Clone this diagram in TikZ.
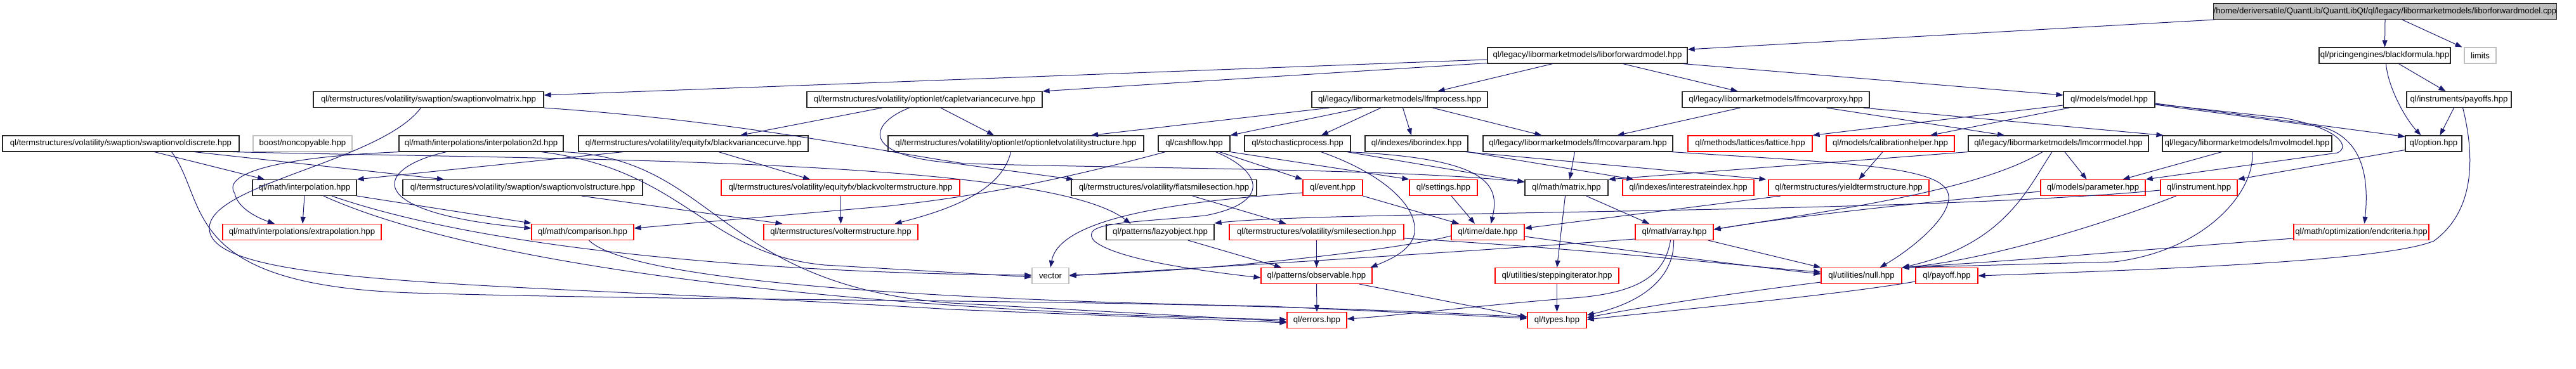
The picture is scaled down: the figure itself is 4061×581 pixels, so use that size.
\documentclass[tikz,border=0pt]{standalone}
\usepackage{fontspec}
\setmainfont{Liberation Sans}
\usetikzlibrary{arrows.meta}
\definecolor{edgec}{HTML}{191970}
\definecolor{graybox}{HTML}{BFBFBF}
\newcommand\lab{\fontsize{13.2}{15}\selectfont}
\begin{document}
\begin{tikzpicture}[x=1pt,y=-1pt,
 nd/.style={rectangle, draw, line width=1.2pt, minimum height=25pt, inner sep=0pt, font=\lab, text=black},
 blk/.style={nd, draw=black!85},
 trunc/.style={nd, draw=red},
 extn/.style={nd, draw=graybox},
 dep/.style={draw=edgec, line width=1pt, -{Triangle[length=11pt,width=8pt]}}]
\useasboundingbox (0,0) rectangle (4061,581);
% row 0
\node[blk, fill=graybox, minimum width=516pt] (root) at (3760,18) {/home/deriversatile/QuantLib/QuantLibQt/ql/legacy/libormarketmodels/liborforwardmodel.cpp};
% row 1
\node[blk, minimum width=315pt] (lfm) at (2502.5,87.5) {ql/legacy/libormarketmodels/liborforwardmodel.hpp};
\node[blk, minimum width=207pt] (bf) at (3759.5,87.5) {ql/pricingengines/blackformula.hpp};
\node[extn, minimum width=50pt] (limits) at (3910,87.5) {limits};
% row 2
\node[blk, minimum width=363pt] (svm) at (675.5,157) {ql/termstructures/volatility/swaption/swaptionvolmatrix.hpp};
\node[blk, minimum width=371pt] (cvc) at (1457.5,157) {ql/termstructures/volatility/optionlet/capletvariancecurve.hpp};
\node[blk, minimum width=277pt] (lfmp) at (2206.5,157) {ql/legacy/libormarketmodels/lfmprocess.hpp};
\node[blk, minimum width=295pt] (lcp) at (2799.5,157) {ql/legacy/libormarketmodels/lfmcovarproxy.hpp};
\node[blk, minimum width=144pt] (model) at (3325,157) {ql/models/model.hpp};
\node[blk, minimum width=165pt] (payoffs) at (3876.5,157) {ql/instruments/payoffs.hpp};
% row 3
\node[blk, minimum width=373pt] (svd) at (190.5,226.5) {ql/termstructures/volatility/swaption/swaptionvoldiscrete.hpp};
\node[extn, minimum width=156pt] (nc) at (477,226.5) {boost/noncopyable.hpp};
\node[blk, minimum width=259pt] (i2d) at (758.5,226.5) {ql/math/interpolations/interpolation2d.hpp};
\node[blk, minimum width=362pt] (bvc) at (1093,226.5) {ql/termstructures/volatility/equityfx/blackvariancecurve.hpp};
\node[blk, minimum width=403pt] (ovs) at (1601.5,226.5) {ql/termstructures/volatility/optionlet/optionletvolatilitystructure.hpp};
\node[blk, minimum width=113pt] (cf) at (1882.5,226.5) {ql/cashflow.hpp};
\node[blk, minimum width=167pt] (sp) at (2045.5,226.5) {ql/stochasticprocess.hpp};
\node[blk, minimum width=162pt] (ibor) at (2233,226.5) {ql/indexes/iborindex.hpp};
\node[blk, minimum width=299pt] (lcpar) at (2487.5,226.5) {ql/legacy/libormarketmodels/lfmcovarparam.hpp};
\node[trunc, minimum width=196pt] (lat) at (2759,226.5) {ql/methods/lattices/lattice.hpp};
\node[trunc, minimum width=202pt] (cal) at (2980,226.5) {ql/models/calibrationhelper.hpp};
\node[blk, minimum width=284pt] (lmc) at (3245,226.5) {ql/legacy/libormarketmodels/lmcorrmodel.hpp};
\node[blk, minimum width=267pt] (lmv) at (3542.5,226.5) {ql/legacy/libormarketmodels/lmvolmodel.hpp};
\node[blk, minimum width=89pt] (opt) at (3836.5,226.5) {ql/option.hpp};
% row 4
\node[blk, minimum width=164pt] (interp) at (480,296) {ql/math/interpolation.hpp};
\node[blk, minimum width=378pt] (svs) at (824,296) {ql/termstructures/volatility/swaption/swaptionvolstructure.hpp};
\node[trunc, minimum width=376pt] (bvts) at (1325,296) {ql/termstructures/volatility/equityfx/blackvoltermstructure.hpp};
\node[blk, minimum width=292pt] (fss) at (1835,296) {ql/termstructures/volatility/flatsmilesection.hpp};
\node[trunc, minimum width=94pt] (ev) at (2101,296) {ql/event.hpp};
\node[trunc, minimum width=107pt] (sett) at (2275.5,296) {ql/settings.hpp};
\node[blk, minimum width=131pt] (mat) at (2469.5,296) {ql/math/matrix.hpp};
\node[trunc, minimum width=207pt] (iri) at (2661.5,296) {ql/indexes/interestrateindex.hpp};
\node[trunc, minimum width=253pt] (yts) at (2914.5,296) {ql/termstructures/yieldtermstructure.hpp};
\node[trunc, minimum width=165pt] (par) at (3299.5,296) {ql/models/parameter.hpp};
\node[trunc, minimum width=121pt] (ins) at (3466.5,296) {ql/instrument.hpp};
% row 5
\node[trunc, minimum width=250pt] (ext) at (476,366) {ql/math/interpolations/extrapolation.hpp};
\node[trunc, minimum width=161pt] (cmp) at (918.5,366) {ql/math/comparison.hpp};
\node[trunc, minimum width=243pt] (vts) at (1325.5,366) {ql/termstructures/voltermstructure.hpp};
\node[blk, minimum width=170pt] (lazy) at (1829,366) {ql/patterns/lazyobject.hpp};
\node[trunc, minimum width=275pt] (ss) at (2075.5,366) {ql/termstructures/volatility/smilesection.hpp};
\node[trunc, minimum width=115pt] (date) at (2345.5,366) {ql/time/date.hpp};
\node[trunc, minimum width=123pt] (arr) at (2639.5,366) {ql/math/array.hpp};
\node[trunc, minimum width=213pt] (endc) at (3722.5,366) {ql/math/optimization/endcriteria.hpp};
% row 6
\node[extn, minimum width=58pt] (vec) at (1656,435) {vector};
\node[trunc, minimum width=175pt] (obs) at (2075.5,435) {ql/patterns/observable.hpp};
\node[trunc, minimum width=195pt] (stepit) at (2454.5,435) {ql/utilities/steppingiterator.hpp};
\node[trunc, minimum width=127pt] (nul) at (2934.5,435) {ql/utilities/null.hpp};
\node[trunc, minimum width=98pt] (pay) at (3069,435) {ql/payoff.hpp};
% row 7
\node[trunc, minimum width=94pt] (err) at (2076,505) {ql/errors.hpp};
\node[trunc, minimum width=93pt] (typ) at (2454.5,505) {ql/types.hpp};

% edges
\draw[dep] ([xshift=2pt]root.south west) -- ([yshift=9.5pt]lfm.east);
\draw[dep] (root.south) -- (bf.north);
\draw[dep] ([xshift=27pt]root.south) -- ([xshift=-3pt]limits.north west);
\draw[dep] ([yshift=-6.5pt]lfm.west) -- ([yshift=7pt]svm.east);
\draw[dep] ([yshift=-12pt]lfm.west) -- (cvc.north east);
\draw[dep] ([xshift=-55pt]lfm.south) -- ([xshift=60pt]lfmp.north);
\draw[dep] ([xshift=56pt]lfm.south) -- ([xshift=-60pt]lcp.north);
\draw[dep] ([xshift=-7pt]lfm.south east) -- ([yshift=7pt]model.west);
\draw[dep] ([xshift=22pt]bf.south) -- ([xshift=-21pt]payoffs.north);
\draw[dep] ([xshift=2pt]bf.south) .. controls (3764,135) and (3790,185) .. ([xshift=-20pt]opt.north);
\draw[dep] ([xshift=-8pt]payoffs.south) -- ([xshift=10pt]opt.north);
\draw[dep] ([xshift=6pt]payoffs.south) .. controls (3900,240) and (3905,330) .. (3837,380) .. controls (3760,412) and (3400,425) .. (pay.east);
\draw[dep] ([yshift=-10pt]opt.west) -- (ins.north east);
\draw[dep] ([yshift=-6pt]model.east) -- ([yshift=11pt]opt.west);
\draw[dep] ([yshift=-7pt]model.east) -- (3600,186) .. controls (3690,203) and (3705,232) .. (3685,241) -- (par.north east);
\draw[dep] ([yshift=-8pt]model.east) -- (3660,200) .. controls (3725,218) and (3735,280) .. ([xshift=5pt]endc.north);
\draw[dep] ([xshift=-63pt]model.south) -- ([xshift=63pt]cal.north);
\draw[dep] ([yshift=-9pt]model.west) -- (lat.north east);
\draw[dep] ([xshift=-12pt]cal.south) -- ([xshift=16pt]yts.north);
\draw[dep] ([xshift=-56pt]lcp.south) -- ([xshift=62pt]lcpar.north);
\draw[dep] ([xshift=80pt]lcp.south) -- ([xshift=-85pt]lmc.north);
\draw[dep] ([xshift=-10pt]lcp.south east) -- ([xshift=2pt]lmv.north west);
\draw[dep] ([xshift=10pt]lmc.south) -- ([xshift=-10pt]par.north);
\draw[dep] ([xshift=-10pt]lmc.south) .. controls (3195,300) and (3160,385) .. ([yshift=13pt]nul.east);
\draw[dep] ([xshift=-25pt]lmc.south) .. controls (3120,300) and (2900,330) .. ([yshift=4pt]arr.east);
\draw[dep] (lmc.south west) -- (mat.north east);
\draw[dep] ([xshift=-40pt]lmv.south) -- ([xshift=47pt]par.north);
\draw[dep] ([xshift=8pt]lmv.south) .. controls (3556,300) and (3480,395) .. (3333,413) -- ([yshift=13pt]nul.east);
\draw[dep] ([yshift=-10pt]endc.west) .. controls (3400,392) and (3200,410) .. ([yshift=13pt]nul.east);
\draw[dep] ([xshift=-36pt]ins.south) .. controls (3300,360) and (3120,412) .. ([yshift=13pt]nul.east);
\draw[dep] ([yshift=-4pt]ins.west) .. controls (3000,338) and (2100,332) .. ([yshift=14pt]lazy.east);
\draw[dep] ([yshift=-6pt]par.west) .. controls (3000,322) and (2800,345) .. ([yshift=4pt]arr.east);
\draw[dep] ([xshift=-2pt]lcpar.south east) .. controls (2920,258) and (3070,262) .. (3072,310) .. controls (3074,345) and (3010,395) .. ([xshift=29pt]nul.north);
\draw[dep] ([xshift=-5pt]lcpar.south) -- ([xshift=5pt]mat.north);
\draw[dep] ([xshift=-29.5pt]lfmp.south) -- ([xshift=37.5pt]sp.north);
\draw[dep] ([xshift=5pt]lfmp.south) -- ([xshift=-8pt]ibor.north);
\draw[dep] ([xshift=52pt]lfmp.south) -- ([xshift=-57pt]lcpar.north);
\draw[dep] ([xshift=-111pt]lfmp.south) -- ([xshift=118.5pt]ovs.north);
\draw[dep] ([xshift=-59pt]lfmp.south) -- (cf.north east);
\draw[dep] ([xshift=-67pt]cvc.south) -- ([xshift=74pt]bvc.north);
\draw[dep] ([xshift=25.5pt]cvc.south) -- ([xshift=-34.5pt]ovs.north);
\draw[dep] ([xshift=-24pt]cvc.south) .. controls (1370,195) and (1355,245) .. (1500,257) -- ([xshift=4pt]fss.north west);
\draw[dep] ([xshift=40pt]bvc.south) -- ([xshift=-48pt]bvts.north);
\draw[dep] ([xshift=-111pt]bvc.south) -- (interp.north east);
\draw[dep] ([xshift=93pt]svs.south) -- ([xshift=-92pt]vts.north);
\draw[dep] (bvts.south) -- (vts.north);
\draw[dep] ([xshift=-8pt]ovs.south) .. controls (1580,300) and (1500,330) .. ([xshift=85pt]vts.north);
\draw[dep] ([xshift=-45.5pt]cf.south) .. controls (1650,290) and (1520,312) .. (1400,325) -- ([yshift=6pt]cmp.east);
\draw[dep] ([xshift=45pt]fss.south) -- ([xshift=-48pt]ss.north);
\draw[dep] ([xshift=-10pt]svd.south east) .. controls (900,252) and (1650,250) .. ([xshift=39pt]lazy.north west);
\draw[dep] ([xshift=116pt]svd.south) -- ([xshift=-124pt]svs.north);
\draw[dep] ([xshift=53pt]svd.south) -- ([xshift=-63pt]interp.north);
\draw[dep] (interp.south) -- ([xshift=1pt]ext.north);
\draw[dep] (interp.south east) -- ([yshift=14pt]cmp.west);
\draw[dep] ([xshift=43pt]interp.south) .. controls (800,405) and (1300,432) .. ([yshift=1pt]vec.west);
\draw[dep] ([xshift=30pt]interp.south) .. controls (800,440) and (1500,495) .. ([yshift=1pt]err.west);
\draw[dep] ([xshift=-129.5pt]i2d.south) .. controls (430,248) and (350,275) .. (370,305) .. controls (375,330) and (410,345) .. ([xshift=-43pt]ext.north);
\draw[dep] ([xshift=-55pt]i2d.south) .. controls (590,265) and (565,335) .. ([yshift=6pt]cmp.west);
\draw[dep] ([xshift=95pt]i2d.south) .. controls (1080,268) and (1110,400) .. (1300,418) -- ([yshift=-2pt]vec.west);
\draw[dep] (i2d.south east) .. controls (1130,250) and (1130,450) .. (1500,478) -- ([yshift=-2pt]err.west);
\draw[dep] ([xshift=-12pt]svm.south) .. controls (600,255) and (330,290) .. (330,360) .. controls (330,455) and (800,445) .. (1500,488) -- ([yshift=-4pt]err.west);
\draw[dep] (svm.south east) .. controls (1150,190) and (1340,230) .. (1520,258) .. controls (1800,266) and (2200,266) .. ([yshift=9pt]mat.west);
\draw[dep] ([xshift=80pt]svd.south) .. controls (330,320) and (280,450) .. (650,462) .. controls (1200,478) and (1800,468) .. ([yshift=5pt]typ.west);
\draw[dep] ([xshift=-6pt]sp.south east) -- ([yshift=9pt]mat.west);
\draw[dep] ([xshift=-4pt]sp.south east) .. controls (2345,250) and (2365,290) .. ([xshift=5pt]date.north);
\draw[dep] ([xshift=37pt]sp.south) .. controls (2170,270) and (2235,320) .. (2230,367) .. controls (2226,395) and (2190,410) .. ([xshift=85pt]obs.north);
\draw[dep] ([xshift=40pt]cf.south) -- (ev.north west);
\draw[dep] (cf.south east) -- (sett.north west);
\draw[dep] ([xshift=34pt]cf.south) .. controls (1990,270) and (2005,320) .. (1900,340) .. controls (1780,352) and (1700,350) .. (1725,380) .. controls (1760,410) and (1900,428) .. ([yshift=-3pt]obs.west);
\draw[dep] ([yshift=-8pt]ev.west) .. controls (1850,318) and (1670,345) .. (vec.north);
\draw[dep] (ev.south east) -- ([xshift=-45.5pt]date.north);
\draw[dep] ([xshift=12.5pt]sett.south) -- ([xshift=-20.5pt]date.north);
\draw[dep] (ibor.south east) -- ([xshift=-86pt]iri.north);
\draw[dep] ([xshift=-4pt]ibor.south east) -- ([xshift=-3pt]yts.north west);
\draw[dep] ([xshift=-35pt]mat.south east) -- ([xshift=-39.5pt]arr.north);
\draw[dep] ([xshift=-2pt]mat.south) -- (stepit.north);
\draw[dep] ([yshift=-11pt]arr.west) .. controls (2300,398) and (1900,422) .. (vec.east);
\draw[dep] ([yshift=-6pt]date.west) .. controls (2200,395) and (1900,428) .. ([yshift=1pt]vec.east);
\draw[dep] (ss.south) -- (obs.north);
\draw[dep] ([yshift=-10pt]ss.east) .. controls (2500,392) and (2750,420) .. ([yshift=6pt]nul.west);
\draw[dep] ([yshift=-7pt]date.east) .. controls (2600,400) and (2800,425) .. ([yshift=3pt]nul.west);
\draw[dep] ([xshift=-107.5pt]yts.south) -- ([yshift=6pt]date.east);
\draw[dep] ([xshift=53.5pt]arr.south) -- (nul.north west);
\draw[dep] ([xshift=-6pt]arr.south) .. controls (2625,430) and (2590,462) .. (2480,470) .. controls (2350,480) and (2200,498) .. ([yshift=2pt]err.east);
\draw[dep] ([xshift=-1pt]arr.south) .. controls (2640,430) and (2600,475) .. ([yshift=8pt]typ.east);
\draw[dep] ([yshift=-10pt]nul.west) .. controls (2750,460) and (2600,482) .. ([yshift=4pt]typ.east);
\draw[dep] ([yshift=-9pt]pay.west) .. controls (2900,465) and (2650,488) .. ([yshift=1pt]typ.east);
\draw[dep] (stepit.south) -- (typ.north);
\draw[dep] (obs.south) -- (err.north);
\draw[dep] ([xshift=67.5pt]obs.south) -- ([yshift=5pt]typ.west);
\draw[dep] ([xshift=44pt]lazy.south) -- ([xshift=-55.5pt]obs.north);
\draw[dep] ([xshift=10pt]cmp.south) .. controls (980,430) and (1300,470) .. (2000,483) -- ([yshift=3pt]typ.west);
\end{tikzpicture}
\end{document}
